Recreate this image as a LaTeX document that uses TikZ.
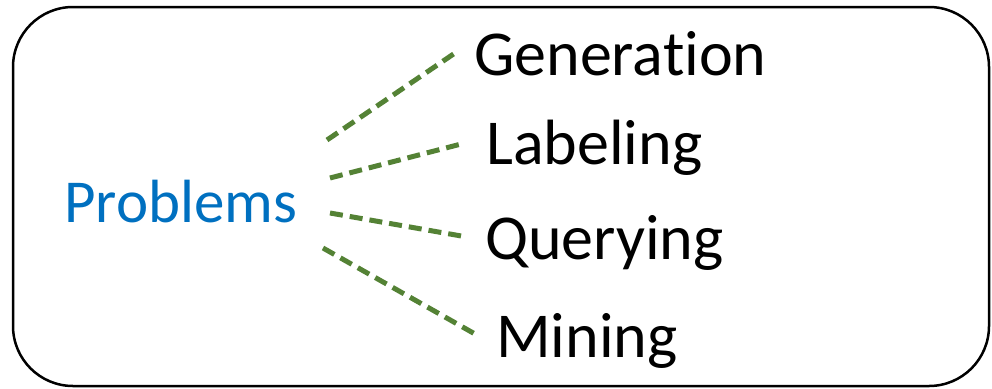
\documentclass[tikz,border=0pt]{standalone}
\usepackage{fontspec}
\setmainfont[Ligatures=NoCommon]{Carlito}
\usetikzlibrary{positioning}

\definecolor{probblue}{RGB}{0,112,192}
\definecolor{linkgreen}{RGB}{84,130,53}

\tikzset{
	frame/.style={draw=black, line width=2.5pt, rounded corners=60pt},
	topic/.style={anchor=base west, inner sep=0pt, font=\fontsize{64}{70}\selectfont},
	link/.style={draw=linkgreen, line width=5pt, dash pattern=on 13pt off 7pt}
}

\begin{document}
\begin{tikzpicture}[x=1pt,y=-1pt]
	\useasboundingbox (0,0) rectangle (992,388);
	\draw[frame] (13,7) rectangle (989,386);

	\node[anchor=base west, inner sep=0pt, text=probblue,
		font=\fontsize{61}{70}\selectfont]	(prob) at (64,222)	{Problems};
	\node[topic]	(gen)	at (474,75)		{Generation};
	\node[topic]	(lab)	at (486,164)	{Labeling};
	\node[topic]	(que)	at (485,259)	{Querying};
	\node[topic]	(min)	at (496,357)	{Mining};

	% ends of the dashed links
	\coordinate (p1) at (327,140);
	\coordinate (p2) at (330,178);
	\coordinate (p3) at (330,213);
	\coordinate (p4) at (323,248);
	\coordinate (g1) at (455,53);
	\coordinate (g2) at (465,143);
	\coordinate (g3) at (467,237);
	\coordinate (g4) at (475,334);

	\draw[link]	(p1) -- (g1);
	\draw[link]	(p2) -- (g2);
	\draw[link]	(p3) -- (g3);
	\draw[link]	(p4) -- (g4);
\end{tikzpicture}
\end{document}
